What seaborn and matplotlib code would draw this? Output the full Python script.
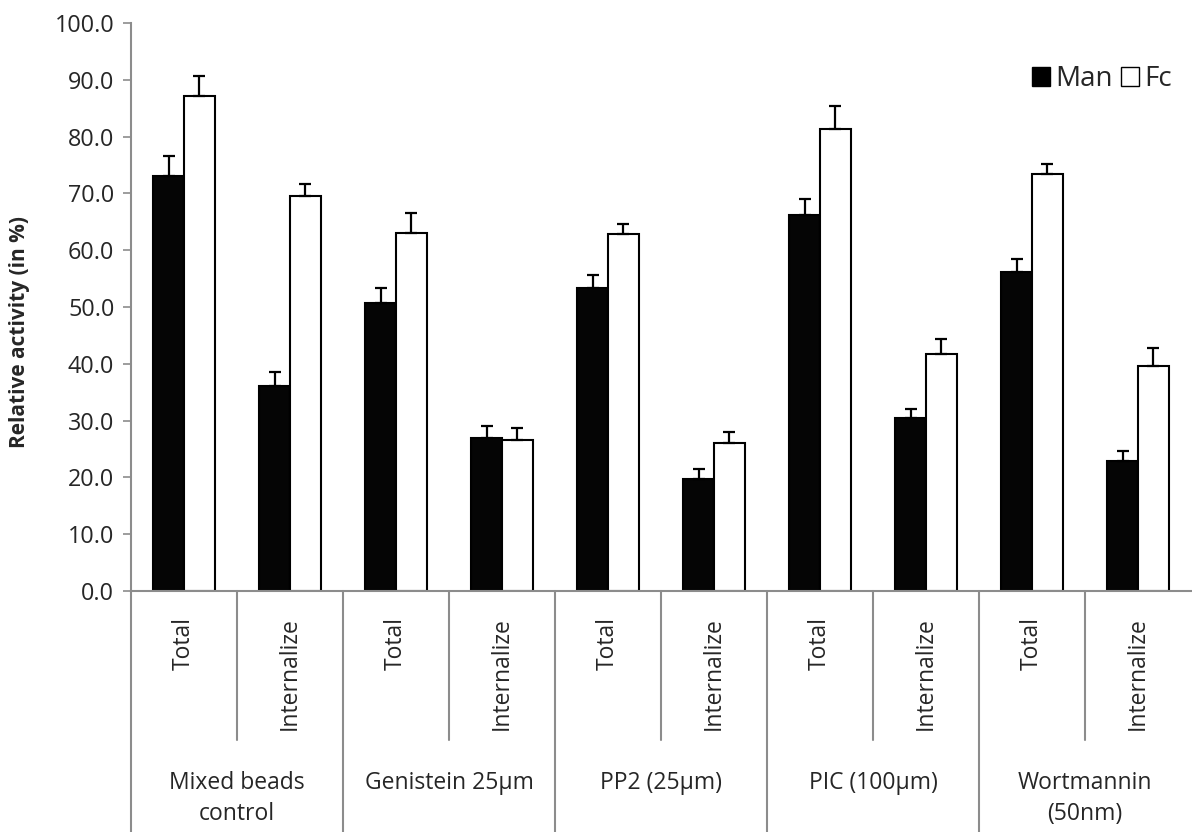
import numpy as np
import pandas as pd
import matplotlib
matplotlib.use("Agg")
import matplotlib.pyplot as plt
from matplotlib.patches import Patch
import seaborn as sns

# Treatment groups, each measured as total and internalized activity
groups = ["Mixed beads\ncontrol", "Genistein 25µm", "PP2 (25µm)", "PIC (100µm)", "Wortmannin\n(50nm)"]
conditions = ["Total", "Internalize"]
series = ["Man", "Fc"]

# Mean relative activity (%) in order: group1 Total, group1 Internalize, group2 Total, ...
man_values = [73.1, 36.1, 50.7, 27.0, 53.3, 19.8, 66.2, 30.4, 56.2, 22.8]
fc_values = [87.2, 69.6, 63.1, 26.6, 62.8, 26.1, 81.4, 41.8, 73.5, 39.7]
# Upper error (SD)
man_errors = [3.4, 2.4, 2.6, 2.0, 2.4, 1.7, 2.9, 1.6, 2.2, 1.9]
fc_errors = [3.5, 2.1, 3.5, 2.1, 1.9, 1.9, 3.9, 2.5, 1.7, 3.0]

yticks = [0, 10, 20, 30, 40, 50, 60, 70, 80, 90, 100]

sns.set_theme(style="white")
plt.rcParams["font.family"] = ["Open Sans", "DejaVu Sans"]

text_color = "#262626"
line_gray = "#8c8c8c"

cat_keys = [f"{g}|{c}" for g in groups for c in conditions]
df = pd.DataFrame({
    "cat": cat_keys * 2,
    "series": ["Man"] * len(cat_keys) + ["Fc"] * len(cat_keys),
    "value": man_values + fc_values,
})
errors = {"Man": man_errors, "Fc": fc_errors}

fig = plt.figure(figsize=(11.92, 8.32), dpi=100)
ax = fig.add_axes([131 / 1192, 1 - 591 / 832, 1060 / 1192, 568 / 832])

sns.barplot(data=df, x="cat", y="value", hue="series", order=cat_keys,
            hue_order=series, palette=["#050505", "white"], edgecolor="black",
            linewidth=1.5, width=0.58, gap=0, errorbar=None, legend=False, ax=ax)

# Upper-only error bars placed on each bar
for container, level in zip(ax.containers, series):
    for bar in container:
        cx = bar.get_x() + bar.get_width() / 2
        idx = int(round(cx))
        h = bar.get_height()
        ax.errorbar([cx], [h], yerr=[[0], [errors[level][idx]]], fmt="none",
                    ecolor="black", elinewidth=1.6, capsize=4.5, capthick=1.6, zorder=3)

ax.set_xlim(-0.5, len(cat_keys) - 0.5)
ax.set_ylim(0, 100)
ax.set_yticks(yticks)
ax.set_yticklabels([f"{v:.1f}" for v in yticks], fontsize=16.8, color=text_color)
ax.tick_params(axis="y", direction="out", length=6, width=1.2, color=line_gray, pad=6, left=True)

ax.set_xticks(range(len(cat_keys)))
ax.set_xticklabels([k.split("|")[1] for k in cat_keys], rotation=90, fontsize=16.5,
                   color=text_color, va="top")
ax.tick_params(axis="x", length=0, pad=19)

ax.set_xlabel("")
ax.set_ylabel("Relative activity (in %)", fontsize=15, fontweight="bold",
              color=text_color)
ax.yaxis.set_label_coords(-101 / 1060, (591 - 332) / 568)

for side in ["top", "right"]:
    ax.spines[side].set_visible(False)
for side in ["left", "bottom"]:
    ax.spines[side].set_color(line_gray)
    ax.spines[side].set_linewidth(1.5)

# Category table lines below the axis
trans = ax.get_xaxis_transform()
bottom_full = -241 / 568
bottom_inner = -149 / 568
for i in range(len(groups)):
    left = 2 * i - 0.5
    ax.plot([left, left], [0, bottom_full], color=line_gray, lw=1.5,
            transform=trans, clip_on=False)
    mid = 2 * i + 0.5
    ax.plot([mid, mid], [0, bottom_inner], color=line_gray, lw=1.5,
            transform=trans, clip_on=False)
    ax.text(mid, -180 / 568, groups[i], transform=trans, ha="center", va="top",
            fontsize=16.5, color=text_color, linespacing=1.4)

ax.legend(handles=[Patch(facecolor="black", edgecolor="black", label="Man"),
                   Patch(facecolor="white", edgecolor="black", label="Fc")],
          loc="upper right", bbox_to_anchor=(0.998, 0.955), ncol=2, frameon=False,
          fontsize=20, handlelength=0.65, handleheight=0.65, handletextpad=0.2,
          columnspacing=0.3, labelcolor=text_color, borderaxespad=0.2)

fig.savefig("out.png", dpi=100)
